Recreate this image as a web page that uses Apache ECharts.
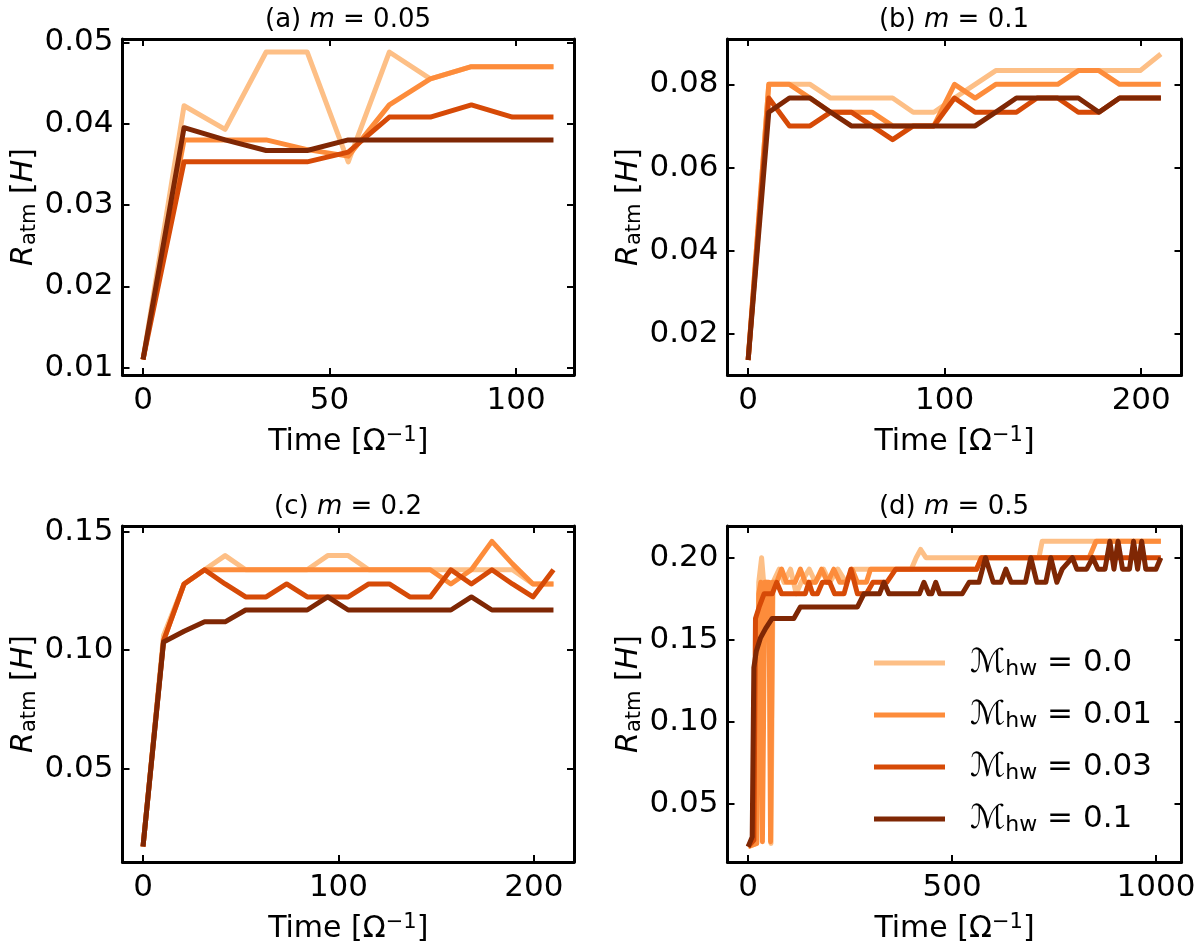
<!DOCTYPE html>
<html><head><meta charset="utf-8">
<script src="https://cdn.jsdelivr.net/npm/echarts@6/dist/echarts.min.js"></script>
<style>html,body{margin:0;padding:0;background:#fff}#c{width:1200px;height:946px}</style>
</head><body><div id="c"></div>
<script>
// ---- data ----
const seriesNames = ['Mhw = 0.0', 'Mhw = 0.01', 'Mhw = 0.03', 'Mhw = 0.1'];
const legendValues = ['0.0', '0.01', '0.03', '0.1'];
const panelTitles = ['(a) {i|m} = 0.05', '(b) {i|m} = 0.1', '(c) {i|m} = 0.2', '(d) {i|m} = 0.5'];

// (a) m = 0.05
const timeA = [0, 11, 22, 33, 44, 55, 66, 77, 88, 99, 110];
const a0 = [0.011, 0.0422, 0.0393, 0.0488, 0.0488, 0.0353, 0.0488, 0.0455, 0.047, 0.047, 0.047];
const a1 = [0.011, 0.038, 0.038, 0.038, 0.0368, 0.036, 0.0423, 0.0455, 0.047, 0.047, 0.047];
const a2 = [0.011, 0.0353, 0.0353, 0.0353, 0.0353, 0.0365, 0.0408, 0.0408, 0.0423, 0.0408, 0.0408];
const a3 = [0.011, 0.0395, 0.038, 0.0367, 0.0367, 0.038, 0.038, 0.038, 0.038, 0.038, 0.038];

// (b) m = 0.1
const timeB = [0, 10.5, 21, 31.5, 42, 52.5, 63, 73.5, 84, 94.5, 105, 115.5, 126, 136.5, 147, 157.5, 168, 178.5, 189, 199.5, 210];
const b0 = [0.0137, 0.08, 0.08, 0.08, 0.0767, 0.0767, 0.0767, 0.0767, 0.0733, 0.0733, 0.0767, 0.08, 0.0833, 0.0833, 0.0833, 0.0833, 0.0833, 0.0833, 0.0833, 0.0833, 0.0873];
const b1 = [0.0137, 0.08, 0.08, 0.0767, 0.0733, 0.0733, 0.0733, 0.07, 0.07, 0.07, 0.08, 0.0767, 0.08, 0.08, 0.08, 0.08, 0.0833, 0.0833, 0.08, 0.08, 0.08];
const b2 = [0.0137, 0.0767, 0.07, 0.07, 0.0733, 0.0733, 0.07, 0.0667, 0.07, 0.07, 0.0767, 0.0733, 0.0733, 0.0733, 0.0767, 0.0767, 0.0733, 0.0733, 0.0767, 0.0767, 0.0767];
const b3 = [0.0137, 0.0733, 0.0767, 0.0767, 0.0733, 0.07, 0.07, 0.07, 0.07, 0.07, 0.07, 0.07, 0.0733, 0.0767, 0.0767, 0.0767, 0.0767, 0.0733, 0.0767, 0.0767, 0.0767];

// (c) m = 0.2
const timeC = [0, 10.5, 21, 31.5, 42, 52.5, 63, 73.5, 84, 94.5, 105, 115.5, 126, 136.5, 147, 157.5, 168, 178.5, 189, 199.5, 210];
const c0 = [0.017, 0.1063, 0.128, 0.134, 0.14, 0.134, 0.134, 0.134, 0.134, 0.14, 0.14, 0.134, 0.134, 0.134, 0.134, 0.134, 0.134, 0.134, 0.134, 0.128, 0.128];
const c1 = [0.017, 0.104, 0.128, 0.134, 0.134, 0.134, 0.134, 0.134, 0.134, 0.134, 0.134, 0.134, 0.134, 0.134, 0.134, 0.128, 0.134, 0.146, 0.1365, 0.128, 0.128];
const c2 = [0.017, 0.104, 0.128, 0.134, 0.128, 0.1225, 0.1225, 0.128, 0.1225, 0.1225, 0.1225, 0.128, 0.128, 0.1225, 0.1225, 0.134, 0.128, 0.134, 0.128, 0.1225, 0.134];
const c3 = [0.017, 0.1035, 0.108, 0.112, 0.112, 0.117, 0.117, 0.117, 0.117, 0.1225, 0.117, 0.117, 0.117, 0.117, 0.117, 0.117, 0.1225, 0.117, 0.117, 0.117, 0.117];

// (d) m = 0.5  (times where the value changes)
const timeD0 = [0, 21, 26, 33, 38, 46, 52, 56, 61, 76, 88, 104, 118, 130, 150, 165, 185, 200, 220, 240, 260, 400, 412, 423, 436, 713, 721, 1012];
const d0 = [0.024, 0.026, 0.185, 0.20, 0.185, 0.185, 0.178, 0.026, 0.185, 0.193, 0.185, 0.193, 0.178, 0.185, 0.193, 0.185, 0.193, 0.185, 0.193, 0.185, 0.193, 0.193, 0.20, 0.205, 0.20, 0.20, 0.21, 0.21];
const timeD1 = [0, 21, 26, 31, 35, 41, 51, 55, 60, 70, 82, 94, 115, 128, 140, 165, 180, 195, 210, 225, 240, 255, 268, 290, 300, 560, 572, 836, 853, 1012];
const d1 = [0.024, 0.026, 0.178, 0.185, 0.027, 0.185, 0.185, 0.027, 0.185, 0.185, 0.193, 0.185, 0.185, 0.193, 0.185, 0.185, 0.193, 0.185, 0.193, 0.185, 0.185, 0.193, 0.185, 0.185, 0.193, 0.193, 0.20, 0.20, 0.21, 0.21];
const timeD2 = [0, 14, 18, 27, 39, 59, 70, 82, 140, 149, 158, 170, 182, 200, 212, 235, 252, 268, 290, 306, 340, 362, 560, 572, 1012];
const d2 = [0.024, 0.028, 0.163, 0.17, 0.178, 0.178, 0.185, 0.178, 0.178, 0.185, 0.178, 0.178, 0.185, 0.185, 0.178, 0.178, 0.193, 0.178, 0.178, 0.185, 0.185, 0.193, 0.193, 0.20, 0.20];
const timeD3 = [0, 10, 14, 20, 30, 43, 59, 112, 128, 268, 284, 322, 333, 345, 420, 431, 443, 450, 460, 470, 525, 542, 566, 582, 601, 620, 632, 645, 680, 693, 708, 730, 742, 757, 770, 795, 806, 830, 845, 858, 875, 887, 897, 907, 918, 935, 945, 955, 965, 975, 1000, 1012];
const d3 = [0.024, 0.03, 0.133, 0.143, 0.151, 0.157, 0.163, 0.163, 0.17, 0.17, 0.178, 0.178, 0.185, 0.178, 0.178, 0.185, 0.178, 0.178, 0.185, 0.178, 0.178, 0.185, 0.185, 0.20, 0.185, 0.185, 0.193, 0.185, 0.185, 0.20, 0.185, 0.185, 0.20, 0.185, 0.193, 0.20, 0.193, 0.193, 0.20, 0.193, 0.193, 0.21, 0.193, 0.21, 0.193, 0.193, 0.21, 0.193, 0.21, 0.193, 0.193, 0.20];

// axis ranges and ticks
const xRanges = [[-5.5, 115.5], [-10.5, 220.5], [-10.5, 220.5], [-50.6, 1062.6]];
const yRanges = [[0.0091, 0.0504], [0.0101, 0.0909], [0.0105, 0.1525], [0.0147, 0.2193]];
const xTicks = [[0, 50, 100], [0, 100, 200], [0, 100, 200], [0, 500, 1000]];
const yTicks = [[0.01, 0.02, 0.03, 0.04, 0.05], [0.02, 0.04, 0.06, 0.08], [0.05, 0.10, 0.15], [0.05, 0.10, 0.15, 0.20]];

// ---- styling / layout ----
const colors = ['#fdbf86', '#fd8c3b', '#d64a07', '#7f2704'];
const FONT = 'DejaVu Sans';
const grids = [
  {left: 122.5, top: 39, width: 451.5, height: 336},
  {left: 727.5, top: 39, width: 454, height: 336},
  {left: 122.5, top: 526, width: 451.5, height: 336},
  {left: 727.5, top: 526, width: 454, height: 336}
];
const titleCenters = [[348, 7], [954, 7], [348, 494], [954, 494]];

const panels = [
  {t: [timeA, timeA, timeA, timeA], v: [a0, a1, a2, a3]},
  {t: [timeB, timeB, timeB, timeB], v: [b0, b1, b2, b3]},
  {t: [timeC, timeC, timeC, timeC], v: [c0, c1, c2, c3]},
  {t: [timeD0, timeD1, timeD2, timeD3], v: [d0, d1, d2, d3]}
];

const lineAxis = {show: true, onZero: false, lineStyle: {color: '#000', width: 3}};
const tickStyle = {color: '#000', width: 2};

const xAxes = [], yAxes = [], series = [], titles = [];
for (let p = 0; p < 4; p++) {
  xAxes.push({
    type: 'value', gridIndex: p, min: xRanges[p][0], max: xRanges[p][1], position: 'bottom',
    axisLine: lineAxis,
    axisTick: {show: true, inside: true, length: 7, lineStyle: tickStyle, customValues: xTicks[p]},
    axisLabel: {show: true, customValues: xTicks[p], fontSize: 31, color: '#000', fontFamily: FONT, margin: 10,
      formatter: v => String(Math.round(v))},
    splitLine: {show: false},
    name: 'Time [Ω{sup|−1}]', nameLocation: 'middle', nameGap: 50,
    nameTextStyle: {fontSize: 30, color: '#000', fontFamily: FONT,
      rich: {sup: {fontSize: 21, fontFamily: FONT, color: '#000', padding: [0, 0, 14, 0]}}}
  });
  yAxes.push({
    type: 'value', gridIndex: p, min: yRanges[p][0], max: yRanges[p][1], position: 'left',
    axisLine: lineAxis,
    axisTick: {show: true, inside: true, length: 7, lineStyle: tickStyle, customValues: yTicks[p]},
    axisLabel: {show: true, customValues: yTicks[p], fontSize: 31, color: '#000', fontFamily: FONT, margin: 9,
      formatter: v => v.toFixed(2)},
    splitLine: {show: false},
    name: '{i|R}{s|atm} [{i|H}]', nameLocation: 'middle', nameRotate: 90, nameGap: 82,
    nameTextStyle: {fontSize: 30, color: '#000', fontFamily: FONT,
      rich: {
        i: {fontSize: 30, fontStyle: 'italic', fontFamily: FONT, color: '#000'},
        s: {fontSize: 21, fontFamily: FONT, color: '#000', padding: [12, 0, 0, 0]}
      }}
  });
  titles.push({
    text: panelTitles[p], left: titleCenters[p][0], top: titleCenters[p][1], textAlign: 'center', padding: 0,
    textStyle: {fontSize: 26, fontWeight: 'normal', color: '#000', fontFamily: FONT,
      rich: {i: {fontSize: 26, fontStyle: 'italic', fontFamily: FONT, color: '#000'}}}
  });
  for (let k = 0; k < 4; k++) {
    const tt = panels[p].t[k], vv = panels[p].v[k];
    series.push({
      name: seriesNames[k], type: 'line', xAxisIndex: p, yAxisIndex: p,
      data: tt.map((x, i) => [x, vv[i]]),
      symbol: 'none', showSymbol: false, silent: true, z: 2 + k,
      lineStyle: {color: colors[k], width: 5, join: 'round', cap: 'butt'},
      itemStyle: {color: colors[k]}
    });
  }
}
// mirror axes (top / right frame with inward ticks)
for (let p = 0; p < 4; p++) {
  xAxes.push({
    type: 'value', gridIndex: p, min: xRanges[p][0], max: xRanges[p][1], position: 'top',
    axisLine: lineAxis,
    axisTick: {show: true, inside: true, length: 7, lineStyle: tickStyle, customValues: xTicks[p]},
    axisLabel: {show: false}, splitLine: {show: false}
  });
  yAxes.push({
    type: 'value', gridIndex: p, min: yRanges[p][0], max: yRanges[p][1], position: 'right',
    axisLine: lineAxis,
    axisTick: {show: true, inside: true, length: 7, lineStyle: tickStyle, customValues: yTicks[p]},
    axisLabel: {show: false}, splitLine: {show: false}
  });
}

const chart = echarts.init(document.getElementById('c'), null, {renderer: 'canvas'});
chart.setOption({
  animation: false,
  backgroundColor: '#fff',
  title: titles,
  grid: grids,
  xAxis: xAxes,
  yAxis: yAxes,
  legend: {
    data: seriesNames, orient: 'vertical', left: 869, top: 640,
    icon: 'rect', itemWidth: 71, itemHeight: 5, itemGap: 16,
    formatter: name => '{m|ℳ}{s|hw} = ' + legendValues[seriesNames.indexOf(name)],
    textStyle: {fontSize: 31, color: '#000', fontFamily: FONT, lineHeight: 36, padding: [0, 0, 0, 20],
      rich: {
        m: {fontSize: 33, fontFamily: FONT, color: '#000'},
        s: {fontSize: 22, fontFamily: FONT, color: '#000', padding: [12, 0, 0, 0]}
      }},
    selectedMode: false
  },
  series: series
});
</script></body></html>
